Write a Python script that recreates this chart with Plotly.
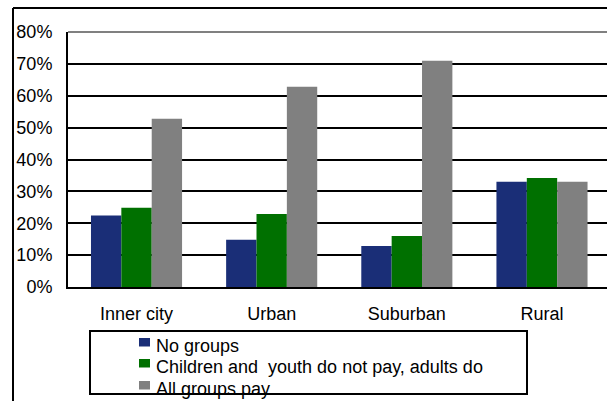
import plotly.graph_objects as go

# Share of facilities by fee policy, per community type
categories = ["Inner city", "Urban", "Suburban", "Rural"]
no_groups = [0.224, 0.148, 0.129, 0.330]
children_free = [0.249, 0.229, 0.160, 0.342]
all_pay = [0.528, 0.628, 0.710, 0.330]

series_names = ["No groups", "Children and  youth do not pay, adults do", "All groups pay"]
series_colors = ["#1A2E77", "#007000", "#808080"]
y_ticks = [0, 0.1, 0.2, 0.3, 0.4, 0.5, 0.6, 0.7, 0.8]
y_tick_text = ["0%", "10%", "20%", "30%", "40%", "50%", "60%", "70%", "80%"]

W, H = 607, 401
L, T, R, B = 68, 32, 0, 114
pw, ph = W - L - R, H - T - B
FONT = "Arial, Liberation Sans, sans-serif"


def px_x(x):
    return (x - L) / pw


def px_y(y):
    return (H - B - y) / ph


fig = go.Figure()
for name, vals, col in zip(series_names, [no_groups, children_free, all_pay], series_colors):
    fig.add_trace(go.Bar(x=categories, y=vals, name=name, marker=dict(color=col, line=dict(width=0))))

shapes = [
    # plot area top border
    dict(type="line", xref="paper", yref="paper", x0=0, x1=1, y0=1, y1=1,
         line=dict(color="#808080", width=2)),
    # chart frame (left and top edges)
    dict(type="line", xref="paper", yref="paper", x0=px_x(13), x1=px_x(13), y0=px_y(8), y1=px_y(402),
         line=dict(color="black", width=2)),
    dict(type="line", xref="paper", yref="paper", x0=px_x(13), x1=px_x(608), y0=px_y(8), y1=px_y(8),
         line=dict(color="black", width=2)),
    # legend box
    dict(type="rect", xref="paper", yref="paper", x0=px_x(90), x1=px_x(527), y0=px_y(331), y1=px_y(394),
         line=dict(color="black", width=2), fillcolor="rgba(0,0,0,0)"),
]
annotations = []

# legend entries: a colour key and the series name on each row
row_centers = [346, 367, 389]
for name, col, yc in zip(series_names, series_colors, row_centers):
    shapes.append(dict(type="rect", xref="paper", yref="paper",
                       x0=px_x(139), x1=px_x(150), y0=px_y(yc - 8), y1=px_y(yc + 0.5),
                       line=dict(width=0), fillcolor=col))
    annotations.append(dict(xref="paper", yref="paper", x=px_x(154), y=px_y(yc),
                            xanchor="left", yanchor="middle", text=name, showarrow=False,
                            font=dict(family=FONT, size=18, color="black")))

fig.update_layout(
    width=W, height=H,
    margin=dict(l=L, r=R, t=T, b=B, pad=0, autoexpand=False),
    paper_bgcolor="white", plot_bgcolor="white",
    barmode="group", bargap=0.326, bargroupgap=0,
    font=dict(family=FONT, size=18, color="black"),
    showlegend=False,
    xaxis=dict(
        range=[-0.507, 3.481], showgrid=False, zeroline=False,
        showline=True, linecolor="black", linewidth=2, automargin=False,
        ticks="", ticklabelstandoff=9, fixedrange=True,
    ),
    yaxis=dict(
        range=[0, 0.8], tickvals=y_ticks, ticktext=y_tick_text,
        showgrid=True, gridcolor="black", gridwidth=1.5, automargin=False,
        zeroline=False, showline=True, linecolor="black", linewidth=2,
        ticks="", ticklabelstandoff=10, fixedrange=True,
    ),
    shapes=shapes,
    annotations=annotations,
)

fig.write_html("out.html")
